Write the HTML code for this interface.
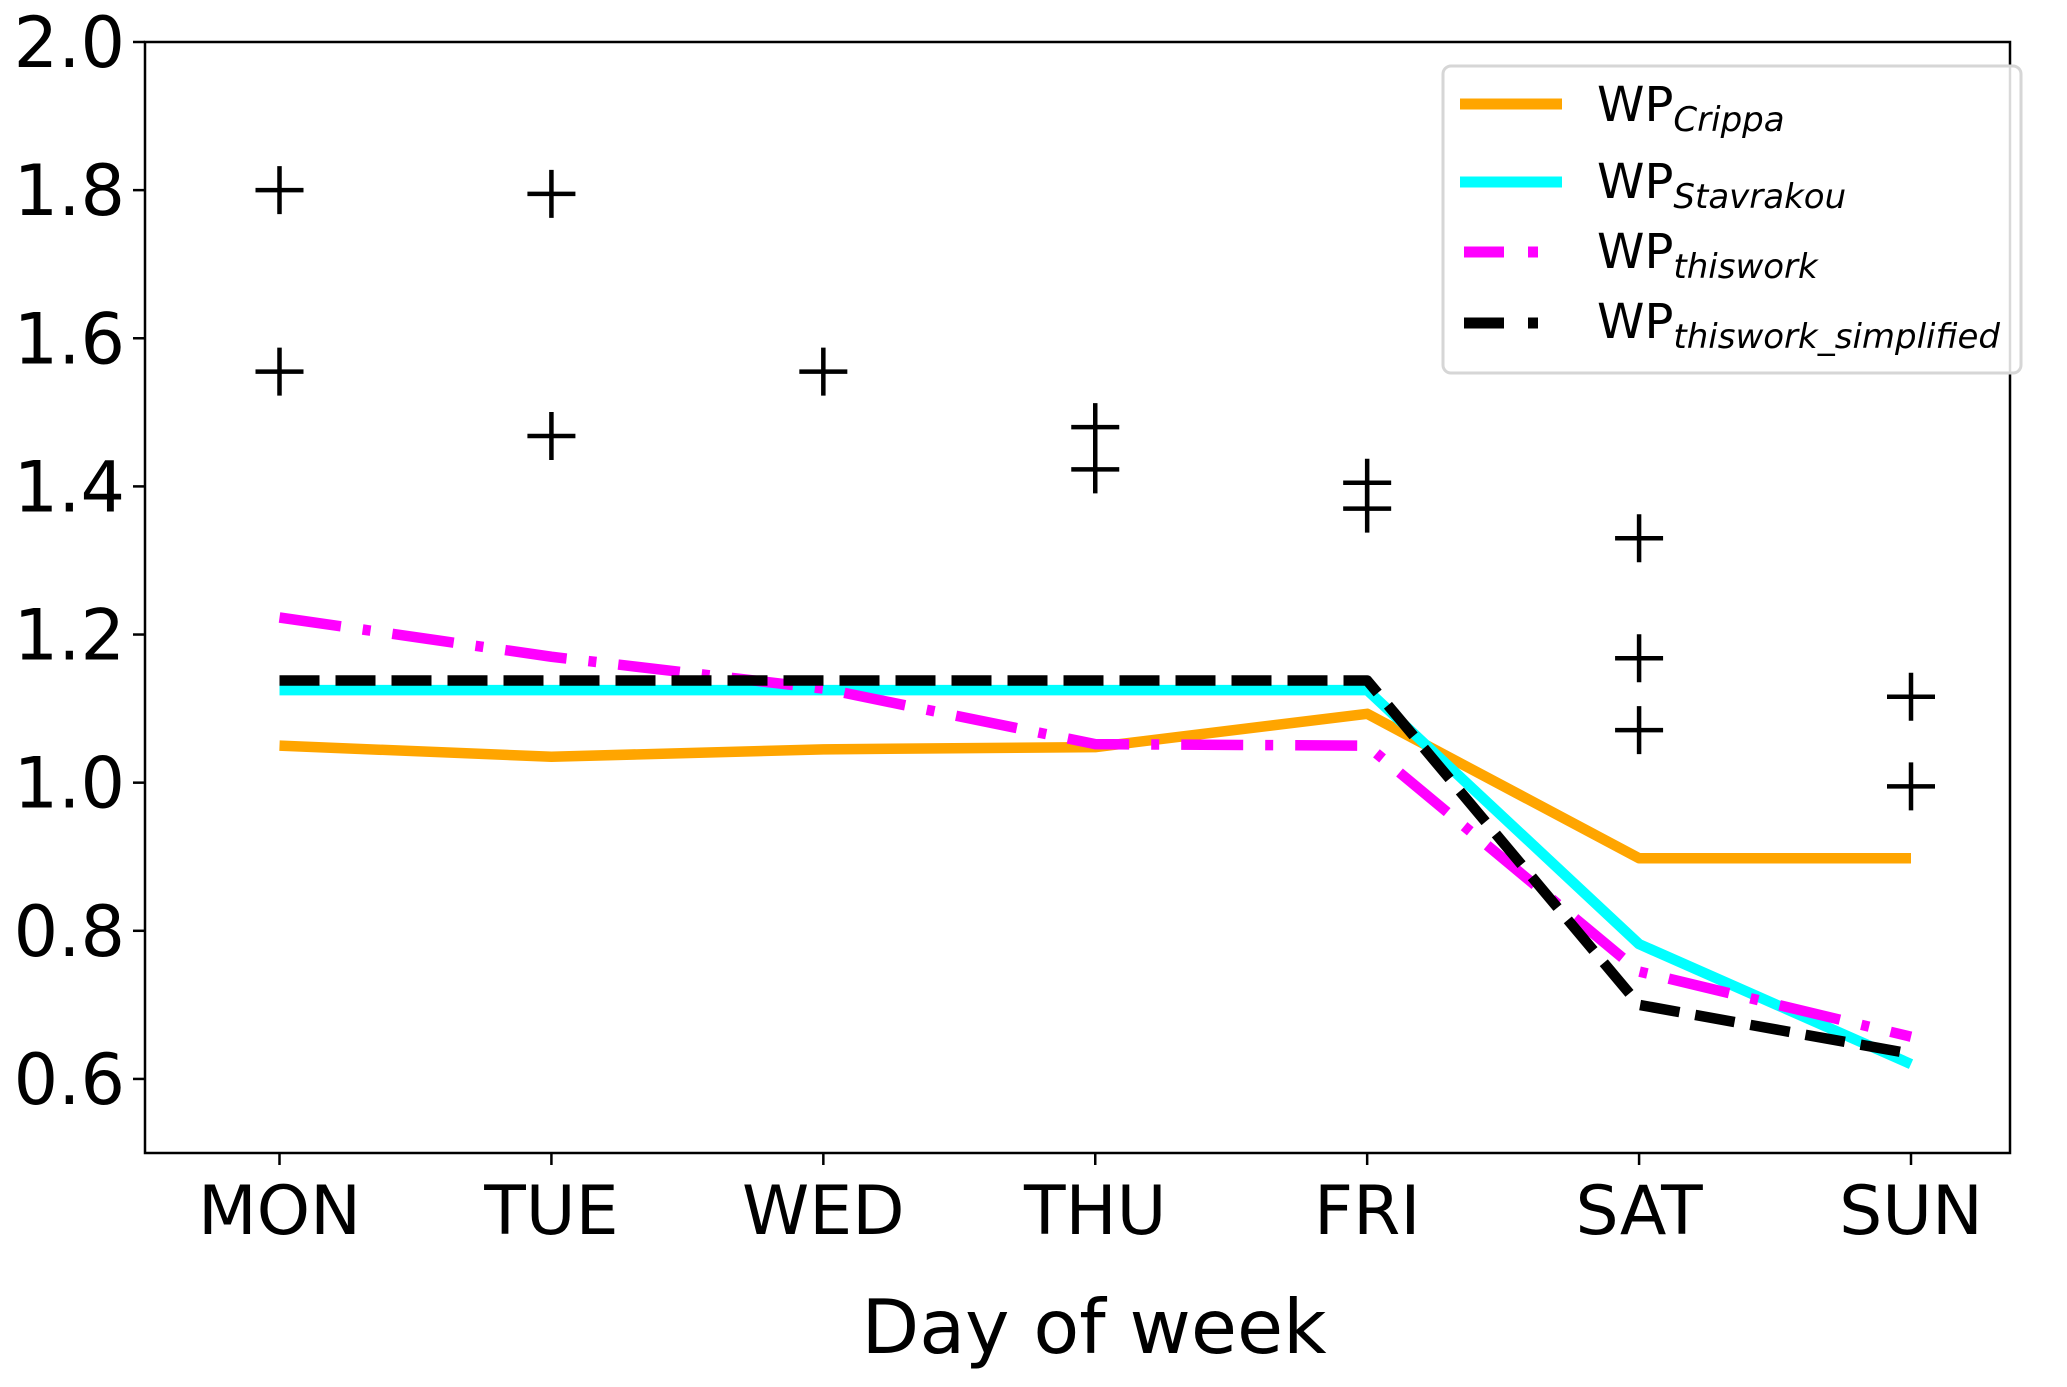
<!DOCTYPE html>
<html><head><meta charset="utf-8"><style>
html,body{margin:0;padding:0;background:#fff}
svg{display:block;font-family:"DejaVu Sans","Liberation Sans",sans-serif}
</style></head><body>
<svg id="chart" width="2067" height="1387" viewBox="0 0 2067 1387">
<rect x="0" y="0" width="2067" height="1387" fill="#fff"/>
<g id="plot"></g>
<g id="axes"></g>
<g id="legend">
<rect x="1443" y="66" width="578" height="307" rx="8" fill="#fff" fill-opacity="0.85" stroke="#d6d6d6" stroke-width="3"/>
<line x1="1460" y1="104" x2="1562" y2="104" stroke="#ffa500" stroke-width="11"/>
<line x1="1460" y1="182" x2="1562" y2="182" stroke="#00ffff" stroke-width="11"/>
<line x1="1464" y1="252" x2="1560" y2="252" stroke="#ff00ff" stroke-width="11" stroke-dasharray="40,24,10,40"/>
<line x1="1464" y1="323" x2="1560" y2="323" stroke="#000" stroke-width="11" stroke-dasharray="40,24,10,40"/>
<text x="1597" y="121" font-size="48">WP<tspan font-size="34" font-style="italic" dy="10">Crippa</tspan></text>
<text x="1597" y="198" font-size="48">WP<tspan font-size="34" font-style="italic" dy="10">Stavrakou</tspan></text>
<text x="1597" y="268" font-size="48">WP<tspan font-size="34" font-style="italic" dy="10">thiswork</tspan></text>
<text x="1597" y="338" font-size="48">WP<tspan font-size="34" font-style="italic" dy="10">thiswork_simplified</tspan></text>
</g>
</svg>
<script>
const days = ["MON","TUE","WED","THU","FRI","SAT","SUN"];
const yTicks = [0.6,0.8,1.0,1.2,1.4,1.6,1.8,2.0];
const yTickLabels = ["0.6","0.8","1.0","1.2","1.4","1.6","1.8","2.0"];
const crippa = [1.05,1.035,1.045,1.048,1.093,0.898,0.898];
const stavrakou = [1.125,1.125,1.125,1.125,1.125,0.782,0.62];
const thiswork = [1.223,1.17,1.127,1.052,1.05,0.745,0.657];
const simplified = [1.138,1.138,1.138,1.138,1.138,0.70,0.634];
const crossDays = [0,0,1,1,2,3,3,4,4,5,5,5,6,6];
const crossVals = [1.80,1.555,1.795,1.468,1.555,1.48,1.423,1.405,1.37,1.33,1.168,1.071,1.116,0.995];

const L=145,R=2010,T=42,B=1153;
const X0=279.5,DX=(1911-279.5)/6;
const yMin=0.5,yMax=2.0;
const xs=i=>X0+i*DX;
const ys=v=>B-(v-yMin)/(yMax-yMin)*(B-T);
const NS="http://www.w3.org/2000/svg";
function mk(tag,attrs,parent){const e=document.createElementNS(NS,tag);for(const k in attrs)e.setAttribute(k,attrs[k]);parent.appendChild(e);return e;}
const plot=document.getElementById('plot'),axes=document.getElementById('axes');

function series(vals,color,dash,name){
  const p=mk('polyline',{points:vals.map((v,i)=>xs(i)+','+ys(v)).join(' '),fill:'none',stroke:color,'stroke-width':10.5,'stroke-linejoin':'round'},plot);
  if(dash)p.setAttribute('stroke-dasharray',dash);
  
  
}
series(crippa,'#ffa500',null,'line-crippa');
series(stavrakou,'#00ffff',null,'line-stavrakou');
series(thiswork,'#ff00ff','62,22,8,22','line-thiswork');
series(simplified,'#000','40,16','line-thiswork-simplified');

crossVals.forEach((v,i)=>{
  const cx=xs(crossDays[i]),cy=ys(v);
  const g=mk('g',{stroke:'#000','stroke-width':4.5},plot);
  
  
  mk('line',{x1:cx-24,y1:cy,x2:cx+24,y2:cy},g);
  mk('line',{x1:cx,y1:cy-24,x2:cx,y2:cy+24},g);
});

const frame=mk('rect',{x:L,y:T,width:R-L,height:B-T,fill:'none',stroke:'#000','stroke-width':2.5},axes);


yTicks.forEach((v,i)=>{
  const y=ys(v);
  const t=mk('line',{x1:L-12,y1:y,x2:L,y2:y,stroke:'#000','stroke-width':2.5},axes);
  
  
  const tx=mk('text',{x:L-20,y:y+25,'font-size':70,'text-anchor':'end'},axes);
  tx.textContent=yTickLabels[i];
  
  
});
days.forEach((d,i)=>{
  const x=xs(i);
  const t=mk('line',{x1:x,y1:B,x2:x,y2:B+12,stroke:'#000','stroke-width':2.5},axes);
  
  
  const tx=mk('text',{x:x,y:B+81,'font-size':68,'text-anchor':'middle'},axes);
  tx.textContent=d;
  
  
});
const xt=mk('text',{x:1094,y:1353,'font-size':75,'text-anchor':'middle'},axes);
xt.textContent='Day of week';


</script>
</body></html>
